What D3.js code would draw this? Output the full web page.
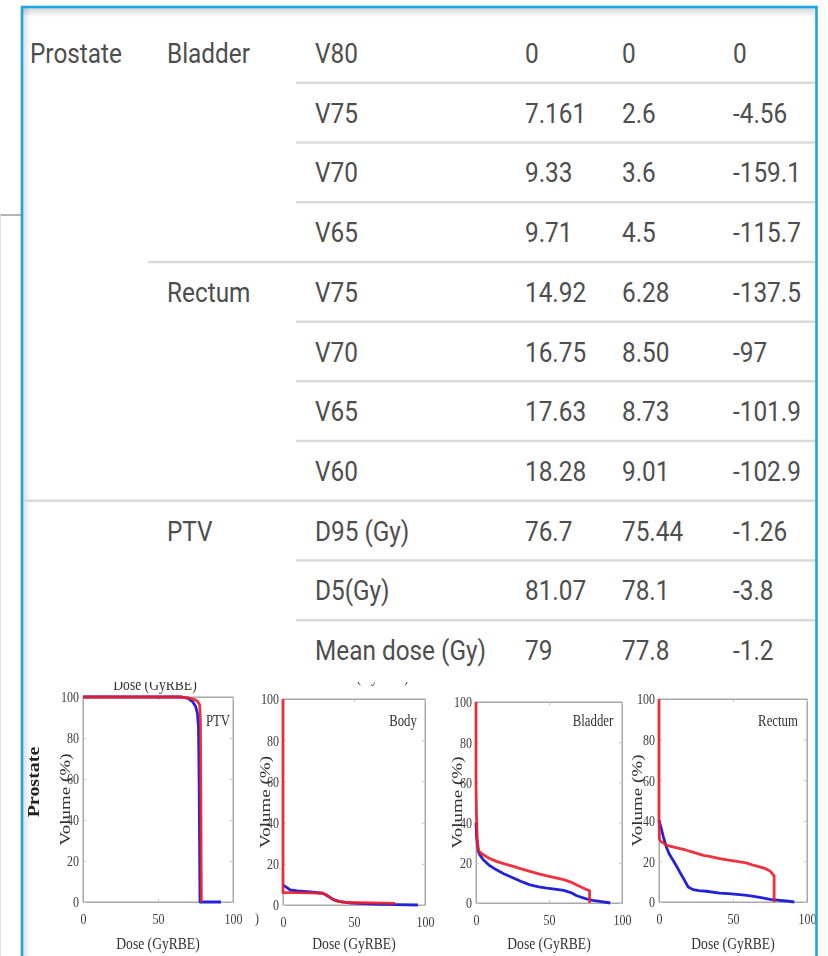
<!DOCTYPE html>
<html>
<head>
<meta charset="utf-8">
<script src="https://cdn.jsdelivr.net/npm/d3@7"></script>
<style>
  html, body { margin: 0; padding: 0; background: #fff; }
  svg { display: block; }
</style>
</head>
<body>
<svg id="chart" width="828" height="956"></svg>
<script>
// ---- Dose comparison table ----
const siteLabels = ["Prostate"];
const rowStructure = ["Bladder", "", "", "", "Rectum", "", "", "", "PTV", "", ""];
const metrics = ["V80", "V75", "V70", "V65", "V75", "V70", "V65", "V60", "D95 (Gy)", "D5(Gy)", "Mean dose (Gy)"];
const planA = ["0", "7.161", "9.33", "9.71", "14.92", "16.75", "17.63", "18.28", "76.7", "81.07", "79"];
const planB = ["0", "2.6", "3.6", "4.5", "6.28", "8.50", "8.73", "9.01", "75.44", "78.1", "77.8"];
const diffs = ["0", "-4.56", "-159.1", "-115.7", "-137.5", "-97", "-101.9", "-102.9", "-1.26", "-3.8", "-1.2"];

// ---- DVH panels (dose Gy, volume %) ----
const panelNames = ["PTV", "Body", "Bladder", "Rectum"];
const doseTicks = [0, 50, 100];
const volumeTicks = [0, 20, 40, 60, 80, 100];

const ptvRed = [[0,100],[64,100],[70,99.6],[74,98.9],[76.5,97.8],[77.8,96],[78.3,88],[78.6,50],[78.9,0]];
const ptvBlue = [[0,100],[66,100],[70,99.3],[73,97.8],[75,95.5],[76.3,92],[77,85],[77.4,60],[77.8,20],[78,0],[92,0]];

const bodyRed = [[0,100],[0,6],[10,6],[20,5.9],[28,5.7],[31,4.8],[34,3.2],[37,2.2],[40,1.6],[46,1.2],[52,1.1],[64,1.0],[79,0.8]];
const bodyBlue = [[0,9.7],[2,8.8],[5,7.3],[10,6.8],[17,6.5],[28,5.7],[30,5],[33,3.7],[36,2.5],[40,1.6],[46,1.1],[52,0.8],[60,0.5],[70,0.3],[80,0.2],[95,0]];

const bladderRed = [[0,100],[0,60],[0.3,45],[0.8,32],[1.6,26.4],[3,25],[5,24],[9,22.3],[14,20.7],[20,19.3],[25.6,18.2],[31,17],[37,15.7],[43,14.5],[48.5,13.5],[54,12.6],[60,11.6],[65,10.4],[69,9],[72,8],[76,6.6],[77.8,6.2],[77.8,0]];
const bladderBlue = [[0,40],[0.5,32],[1.6,25.6],[3,23.5],[5,21.5],[9,18.8],[14,16.5],[19,14.6],[25.6,12.4],[31,10.7],[37,9],[43,8],[48.5,7.4],[54,6.9],[60,6.3],[65,5.2],[69,3.6],[75,2.2],[80,1.3],[86,0.7],[92,0]];

const rectumRed = [[0,100],[0,40],[0.3,31],[1,30],[5,28],[10,27],[18.6,25.5],[24,24.3],[30,23],[35,22.3],[41,21.4],[47,20.6],[52.5,20],[59,19.3],[63,18.3],[68,17.3],[72,16.4],[75,15.3],[77.4,13.2],[77.8,13],[77.8,0]];
const rectumBlue = [[0,40.4],[1.6,36],[3,32],[5,27],[7,23.5],[9.5,20.6],[12,17.5],[14,14.8],[17,11],[19.7,7.4],[23,6.1],[27,5.6],[32,5.3],[41,4.4],[47,4.1],[52.5,3.8],[58,3.4],[64,2.8],[70,2],[75,1.3],[80,0.9],[86,0.5],[91.4,0]];

const redSeries = [ptvRed, bodyRed, bladderRed, rectumRed];
const blueSeries = [ptvBlue, bodyBlue, bladderBlue, rectumBlue];

const svg = d3.select("#chart");
const defs = svg.append("defs");

// soft inner shadow along the card's top and left edge
const gTop = defs.append("linearGradient").attr("id", "shTop").attr("x1", 0).attr("y1", 0).attr("x2", 0).attr("y2", 1);
gTop.append("stop").attr("offset", 0).attr("stop-color", "#000").attr("stop-opacity", 0.16);
gTop.append("stop").attr("offset", 1).attr("stop-color", "#000").attr("stop-opacity", 0);
const gLeft = defs.append("linearGradient").attr("id", "shLeft").attr("x1", 0).attr("y1", 0).attr("x2", 1).attr("y2", 0);
gLeft.append("stop").attr("offset", 0).attr("stop-color", "#000").attr("stop-opacity", 0.12);
gLeft.append("stop").attr("offset", 1).attr("stop-color", "#000").attr("stop-opacity", 0);

defs.append("filter").attr("id", "soft")
  .append("feGaussianBlur").attr("stdDeviation", 0.45);

svg.append("rect").attr("width", 828).attr("height", 956).attr("fill", "#fff");

// page rule left of the card
svg.append("line").attr("x1", 0).attr("x2", 21).attr("y1", 215).attr("y2", 215)
  .attr("stroke", "#9a9a9a").attr("stroke-width", 1.5);
svg.append("line").attr("x1", 0.5).attr("x2", 0.5).attr("y1", 215).attr("y2", 956)
  .attr("stroke", "#e2e2e2").attr("stroke-width", 1);

svg.append("rect").attr("x", 23).attr("y", 8).attr("width", 793).attr("height", 9).attr("fill", "url(#shTop)");
svg.append("rect").attr("x", 23).attr("y", 8).attr("width", 8).attr("height", 950).attr("fill", "url(#shLeft)");

// ---- table ----
const rowY = d3.scaleLinear().domain([0, 1]).range([53, 112.7]);
const table = svg.append("g")
  .attr("font-family", "Roboto, 'Open Sans', sans-serif")
  .attr("font-size", 28)
  .attr("fill", "#4e4e4e");

// separators between rows
const sepStart = i => rowStructure[i + 1] === "PTV" ? 22 : (rowStructure[i + 1] ? 148 : 296);
table.selectAll("line.sep")
  .data(d3.range(metrics.length - 1))
  .join("line")
  .attr("class", "sep")
  .attr("x1", i => sepStart(i)).attr("x2", 816)
  .attr("y1", i => rowY(i + 0.5)).attr("y2", i => rowY(i + 0.5))
  .attr("stroke", "#dadada").attr("stroke-width", 2.5);

function cell(x, i, txt) {
  table.append("text")
    .attr("transform", `translate(${x},${rowY(i) + 10}) scale(0.87,1)`)
    .text(txt);
}
siteLabels.forEach((s, i) => cell(30, i, s));
rowStructure.forEach((s, i) => { if (s) cell(167, i, s); });
metrics.forEach((s, i) => cell(315, i, s));
planA.forEach((s, i) => cell(525, i, s));
planB.forEach((s, i) => cell(622, i, s));
diffs.forEach((s, i) => cell(733, i, s));

// ---- DVH figure ----
const SQ = 0.8; // narrow serif lettering of the figure
const fig = svg.append("g").attr("filter", "url(#soft)")
  .attr("font-family", "'Liberation Serif', 'DejaVu Serif', serif")
  .attr("fill", "#333");

function label(parent, x, y, txt, size, rotate) {
  const t = parent.append("text")
    .attr("transform", `translate(${x},${y}) scale(${SQ},1)` + (rotate ? " rotate(-90)" : ""))
    .attr("text-anchor", "middle").attr("font-size", size).text(txt);
  return t;
}

const panels = [
  { x0: 83, x1: 233, y0: 697, y1: 902, ylab: 65, nameX: 218 },
  { x0: 283, x1: 425, y0: 699, y1: 905, ylab: 265, nameX: 403 },
  { x0: 476, x1: 622, y0: 702, y1: 903, ylab: 457, nameX: 593 },
  { x0: 659, x1: 807, y0: 699, y1: 902, ylab: 637, nameX: 778 }
];

// partially cropped axis titles from the row above the figure
defs.append("clipPath").attr("id", "cropTop")
  .append("rect").attr("x", 0).attr("y", 682).attr("width", 828).attr("height", 300);
const cropped = fig.append("g").attr("clip-path", "url(#cropTop)");
label(cropped, 155, 690, "Dose (GyRBE)", 17);
label(cropped, 367, 682, "Dose (GyRBE)", 17);
label(fig, 257, 923, ")", 15);

label(fig, 39, 782, siteLabels[0], 20, true)
  .attr("font-weight", "bold").attr("fill", "#222");

panels.forEach((p, k) => {
  const x = d3.scaleLinear().domain([0, 100]).range([p.x0, p.x1]);
  const y = d3.scaleLinear().domain([0, 100]).range([p.y1, p.y0]);
  const g = fig.append("g");

  g.append("rect").attr("x", p.x0).attr("y", p.y0)
    .attr("width", p.x1 - p.x0).attr("height", p.y1 - p.y0)
    .attr("fill", "#fff").attr("stroke", "#a8a8a8").attr("stroke-width", 1);

  const ax = g.append("g").attr("transform", `translate(0,${p.y1})`)
    .call(d3.axisBottom(x).tickValues(doseTicks).tickFormat(d3.format("d"))
      .tickSizeInner(-3).tickSizeOuter(0).tickPadding(11));
  const ay = g.append("g").attr("transform", `translate(${p.x0},0)`)
    .call(d3.axisLeft(y).tickValues(volumeTicks).tickFormat(d3.format("d"))
      .tickSizeInner(-3).tickSizeOuter(0).tickPadding(4));
  // matching inward ticks on the opposite sides
  g.append("g").attr("transform", `translate(${p.x1},0)`)
    .call(d3.axisRight(y).tickValues(volumeTicks).tickSizeInner(-3).tickSizeOuter(0).tickFormat(""));
  g.append("g").attr("transform", `translate(0,${p.y0})`)
    .call(d3.axisTop(x).tickValues(doseTicks).tickSizeInner(-3).tickSizeOuter(0).tickFormat(""));

  g.selectAll(".domain").attr("stroke", "#a8a8a8");
  g.selectAll(".tick line").attr("stroke", "#c4c4c4");
  [ax, ay].forEach(a => a.selectAll("text")
    .attr("font-family", "'Liberation Serif', serif").attr("font-size", 15).attr("fill", "#3a3a3a")
    .attr("x", function () { return +d3.select(this).attr("x") / SQ || 0; })
    .attr("transform", `scale(${SQ},1)`));

  const line = d3.line().x(d => x(d[0])).y(d => y(d[1]));
  g.append("path").datum(blueSeries[k]).attr("d", line)
    .attr("fill", "none").attr("stroke", "#2424d8").attr("stroke-width", 2.8)
    .attr("stroke-linejoin", "round");
  g.append("path").datum(redSeries[k]).attr("d", line)
    .attr("fill", "none").attr("stroke", "#ee1d2b").attr("stroke-opacity", 0.9).attr("stroke-width", 2.8)
    .attr("stroke-linejoin", "round");

  label(g, p.nameX, 726, panelNames[k], 16);
  label(g, (p.x0 + p.x1) / 2, 949, "Dose (GyRBE)", 17);
  label(g, p.ylab, (p.y0 + p.y1) / 2, "Volume (%)", 19, true).attr("dy", "0.35em");
});

// card border
svg.append("rect").attr("x", 22).attr("y", 7).attr("width", 794.5).attr("height", 1000)
  .attr("fill", "none").attr("stroke", "#1aa6e6").attr("stroke-width", 2.6);
</script>
</body>
</html>
